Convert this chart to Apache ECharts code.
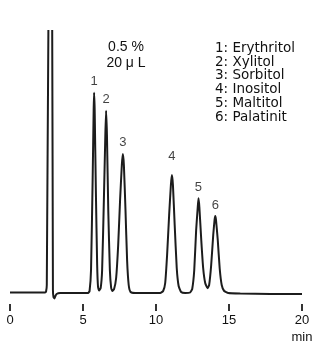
<!DOCTYPE html>
<html>
<head>
<meta charset="utf-8">
<script src="https://cdn.jsdelivr.net/npm/echarts@6/dist/echarts.min.js"></script>
<style>
html,body{margin:0;padding:0;background:#fff;}
#chart{width:323px;height:355px;}
</style>
</head>
<body>
<div id="chart"></div>
<script>
// Chromatogram trace: retention time (min) and detector signal (arbitrary units, baseline = 0)
var traceTime = [0, 1.37, 2.40, 2.47, 2.52, 2.63, 2.77, 2.89, 2.94, 2.98, 3.04, 3.11, 3.19, 3.43, 4.11,
  5.35, 5.45, 5.55, 5.66, 5.73, 5.76, 5.80, 5.88, 5.97, 6.03, 6.10,
  6.21, 6.31, 6.43, 6.53, 6.58, 6.64, 6.73, 6.84, 6.93, 7.01,
  7.13, 7.27, 7.41, 7.54, 7.66, 7.73, 7.80, 7.91, 8.02, 8.13, 8.26, 8.57,
  10.29, 10.49, 10.63, 10.76, 10.90, 11.02, 11.09, 11.16, 11.28, 11.42, 11.55, 11.72, 12.00,
  12.34, 12.48, 12.62, 12.75, 12.86, 12.91, 12.97, 13.10, 13.23, 13.37, 13.53,
  13.64, 13.78, 13.92, 14.01, 14.06, 14.11, 14.23, 14.36, 14.50, 14.67, 14.95,
  15.77, 17.83, 20.0];
var traceSignal = [0.5, 0.5, 0.5, 1.5, 8, 265, 393, 265, 3, -4, -5.5, -3, -1, 0, 0,
  0, 2, 23, 113, 183, 200.3, 183, 103, 28, 6, 2.5,
  5, 23, 93, 158, 182.3, 158, 83, 23, 5, 2,
  4, 15, 48, 93, 128, 139, 128, 83, 33, 8, 1, 0,
  0, 2, 10, 38, 78, 108, 118, 108, 68, 25, 7, 1, 0,
  0.5, 4, 23, 63, 86, 94.7, 86, 53, 25, 10, 4.7,
  8, 28, 58, 73, 77, 73, 53, 25, 8, 2, 0,
  -0.5, -1, -1];

// Peak identification
var peakNumbers = ['1', '2', '3', '4', '5', '6'];
var peakTimes = [5.76, 6.58, 7.73, 11.09, 12.91, 14.06];
var peakHeights = [200.3, 182.3, 139, 118, 94.7, 77];
var compoundNames = ['Erythritol', 'Xylitol', 'Sorbitol', 'Inositol', 'Maltitol', 'Palatinit'];

// Axis ticks
var xTicks = [0, 5, 10, 15, 20];
var xUnit = 'min';

// Sample conditions
var concentration = '0.5 %';
var injectionVolume = '20 μ L';

var Y_MIN = -11, Y_MAX = 262;

var chart = echarts.init(document.getElementById('chart'), null, {renderer: 'canvas'});

var lineData = traceTime.map(function (t, i) { return [t, traceSignal[i]]; });
var labelDist = [5, 5, 5, 12, 4, 4];
var peakData = peakTimes.map(function (t, i) {
  return {
    value: [t, peakHeights[i]],
    name: peakNumbers[i],
    label: {distance: labelDist[i]}
  };
});

var legendText = peakNumbers.map(function (n, i) { return n + ': ' + compoundNames[i]; }).join('\n');

var option = {
  backgroundColor: '#ffffff',
  animation: false,
  grid: {left: 10, right: 21, top: 31, bottom: 51, containLabel: false},
  xAxis: {
    type: 'value',
    min: xTicks[0],
    max: xTicks[xTicks.length - 1],
    interval: 5,
    axisLine: {show: false, onZero: false},
    axisTick: {show: true, length: 7, lineStyle: {color: '#000', width: 1.6}},
    splitLine: {show: false},
    axisLabel: {
      color: '#111',
      fontFamily: 'Liberation Sans, Arial, sans-serif',
      fontSize: 13,
      margin: 8,
      lineHeight: 17,
      formatter: function (v) { return v === xTicks[xTicks.length - 1] ? v + '\n' + xUnit : String(v); }
    }
  },
  yAxis: {
    type: 'value',
    min: Y_MIN,
    max: Y_MAX,
    show: false
  },
  series: [
    {
      type: 'line',
      data: lineData,
      showSymbol: false,
      symbol: 'none',
      smooth: 0.15,
      clip: true,
      lineStyle: {color: '#1c1c1c', width: 2},
      z: 2
    },
    {
      type: 'scatter',
      data: peakData,
      symbolSize: 0,
      label: {
        show: true,
        position: 'top',
        formatter: function (p) { return p.name; },
        color: '#111',
        fontFamily: 'Liberation Sans, Arial, sans-serif',
        fontSize: 13
      },
      z: 3
    }
  ],
  graphic: [
    {
      type: 'text',
      left: 215,
      top: 41.5,
      style: {
        text: legendText,
        fill: '#111',
        font: '13.5px "DejaVu Sans", sans-serif',
        lineHeight: 13.7
      }
    },
    {
      type: 'text',
      x: 126,
      y: 38.5,
      style: {
        text: concentration + '\n' + injectionVolume,
        fill: '#111',
        font: '14px "Liberation Sans", Arial, sans-serif',
        lineHeight: 16.3,
        align: 'center'
      }
    }
  ]
};

chart.setOption(option);
</script>
</body>
</html>
